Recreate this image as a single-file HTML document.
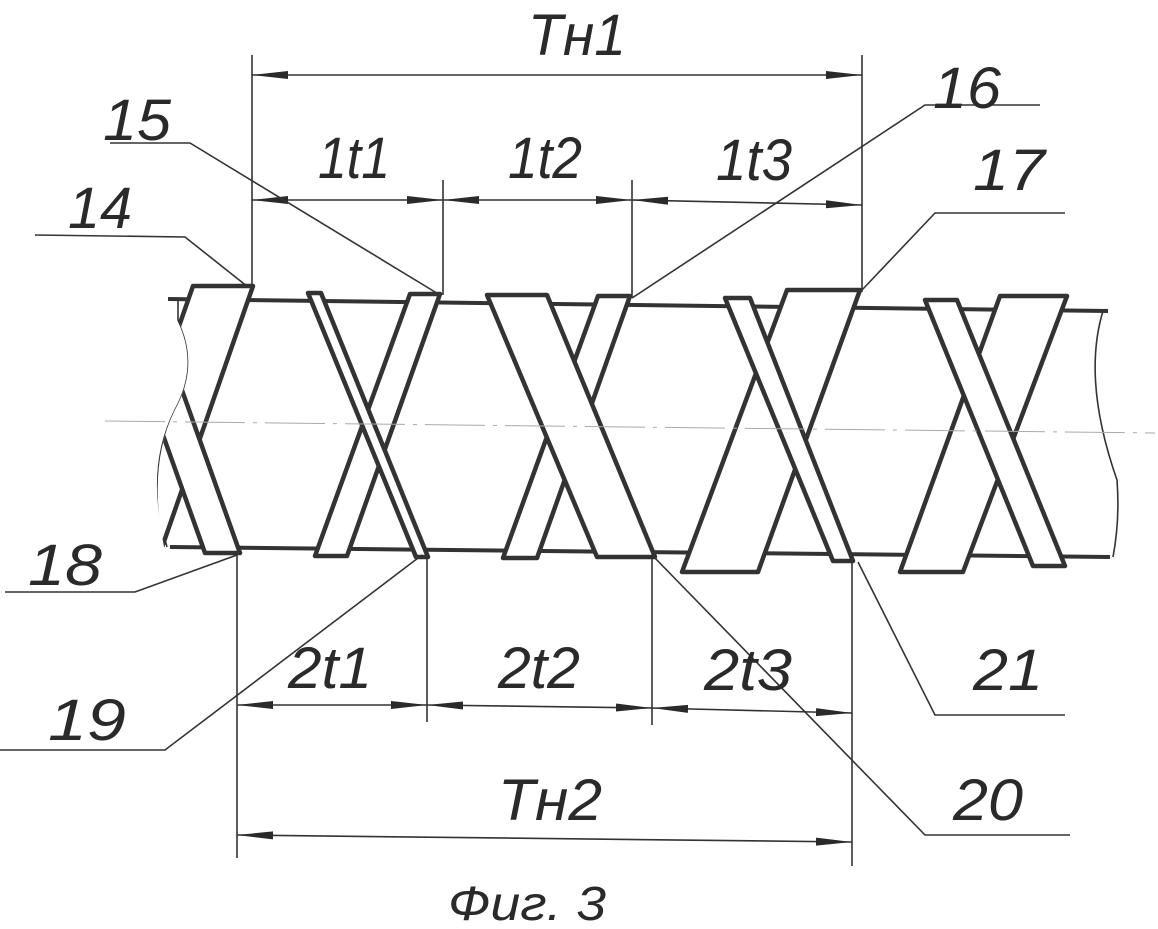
<!DOCTYPE html>
<html><head><meta charset="utf-8"><style>
html,body{margin:0;padding:0;background:#fff;}
svg{display:block}
text{font-family:"Liberation Sans",sans-serif;font-style:italic;fill:#2a2a2a;}
</style></head><body>
<svg width="1158" height="929" viewBox="0 0 1158 929" xmlns="http://www.w3.org/2000/svg">
<defs>
<clipPath id="cl"><path d="M185 250 L178 320 Q200 365 175 410 Q145 470 167 560 L167 620 L1200 620 L1200 250 Z"/></clipPath>
<marker id="ar" viewBox="0 0 36 10" refX="36" refY="5" markerWidth="36" markerHeight="10" markerUnits="userSpaceOnUse" orient="auto-start-reverse"><path d="M0 1 L36 5 L0 9 Z" fill="#2a2a2a"/></marker>
</defs>
<g stroke="#333" stroke-width="4" fill="none" stroke-linejoin="round">
<line x1="168" y1="299" x2="1108" y2="311"/>
<line x1="170" y1="547" x2="1110" y2="557"/>
</g>
<g stroke="#333" stroke-width="1.6" fill="none">
<path d="M178 300 L178 320 Q200 365 175 410 Q145 470 167 547"/>
<path d="M1103 311 Q1082 380 1117 480 Q1120 520 1113 557"/>
</g>
<g clip-path="url(#cl)" stroke="#333" stroke-width="4.5" fill="#fff" stroke-linejoin="round">
<polygon points="193,286 253,286 160,553 100,553"/>
<polygon points="410,294 440,294 347,556 315,556"/>
<polygon points="598,296 630,296 537,558 503,558"/>
<polygon points="787,290 860,290 758,572 682,572"/>
<polygon points="1000,296 1067,296 963,572 900,572"/>
<polygon points="112,292 147,292 240,553 205,553"/>
<polygon points="308,293 321,293 428,557 416,557"/>
<polygon points="487,295 547,295 655,557 597,557"/>
<polygon points="725,298 750,298 853,561 833,561"/>
<polygon points="925,300 957,300 1065,566 1033,566"/>
</g>
<line x1="105" y1="421" x2="1155" y2="433" stroke="#aaa" stroke-width="1" stroke-dasharray="60 8 4 8"/>
<g stroke="#333" stroke-width="1.6" fill="none">
<!-- extension lines top -->
<line x1="252" y1="55" x2="252" y2="290"/>
<line x1="862" y1="55" x2="862" y2="292"/>
<line x1="443" y1="180" x2="443" y2="295"/>
<line x1="632" y1="180" x2="632" y2="298"/>
<!-- extension lines bottom -->
<line x1="237" y1="552" x2="237" y2="858"/>
<line x1="427" y1="556" x2="427" y2="722"/>
<line x1="652" y1="556" x2="652" y2="725"/>
<line x1="852" y1="562" x2="852" y2="866"/>
<!-- dims -->
<line x1="252" y1="75" x2="862" y2="75" marker-start="url(#ar)" marker-end="url(#ar)"/>
<line x1="252" y1="200" x2="443" y2="200" marker-start="url(#ar)" marker-end="url(#ar)"/>
<line x1="443" y1="200" x2="632" y2="200" marker-start="url(#ar)" marker-end="url(#ar)"/>
<line x1="632" y1="200" x2="862" y2="205" marker-start="url(#ar)" marker-end="url(#ar)"/>
<line x1="237" y1="705" x2="427" y2="705" marker-start="url(#ar)" marker-end="url(#ar)"/>
<line x1="427" y1="705" x2="652" y2="708" marker-start="url(#ar)" marker-end="url(#ar)"/>
<line x1="652" y1="708" x2="852" y2="713" marker-start="url(#ar)" marker-end="url(#ar)"/>
<line x1="237" y1="835" x2="852" y2="842" marker-start="url(#ar)" marker-end="url(#ar)"/>
<!-- leaders -->
<polyline points="35,235 185,237 248,287"/>
<polyline points="110,143 190,143 440,295"/>
<polyline points="1040,105 925,105 632,298"/>
<polyline points="1065,213 935,213 862,290"/>
<polyline points="5,592 135,592 237,555"/>
<polyline points="0,750 165,750 422,555"/>
<polyline points="1070,835 925,835 652,555"/>
<polyline points="1065,715 935,715 858,562"/>
</g>
<g font-size="58">
<text x="528" y="55" textLength="98" lengthAdjust="spacingAndGlyphs">Тн1</text>
<text x="318" y="178" textLength="72" lengthAdjust="spacingAndGlyphs">1t1</text>
<text x="508" y="178" textLength="74" lengthAdjust="spacingAndGlyphs">1t2</text>
<text x="716" y="180" textLength="76" lengthAdjust="spacingAndGlyphs">1t3</text>
<text x="103" y="140" textLength="68" lengthAdjust="spacingAndGlyphs">15</text>
<text x="68" y="228" textLength="64" lengthAdjust="spacingAndGlyphs">14</text>
<text x="933" y="108" textLength="68" lengthAdjust="spacingAndGlyphs">16</text>
<text x="973" y="190" textLength="72" lengthAdjust="spacingAndGlyphs">17</text>
<text x="28" y="585" textLength="74" lengthAdjust="spacingAndGlyphs">18</text>
<text x="48" y="740" textLength="78" lengthAdjust="spacingAndGlyphs">19</text>
<text x="288" y="688" textLength="84" lengthAdjust="spacingAndGlyphs">2t1</text>
<text x="498" y="688" textLength="82" lengthAdjust="spacingAndGlyphs">2t2</text>
<text x="704" y="690" textLength="88" lengthAdjust="spacingAndGlyphs">2t3</text>
<text x="973" y="690" textLength="70" lengthAdjust="spacingAndGlyphs">21</text>
<text x="498" y="820" textLength="104" lengthAdjust="spacingAndGlyphs">Тн2</text>
<text x="953" y="820" textLength="70" lengthAdjust="spacingAndGlyphs">20</text>
</g>
<text x="448" y="920" font-size="48" textLength="158" lengthAdjust="spacingAndGlyphs">Фиг. 3</text>
</svg>
</body></html>
